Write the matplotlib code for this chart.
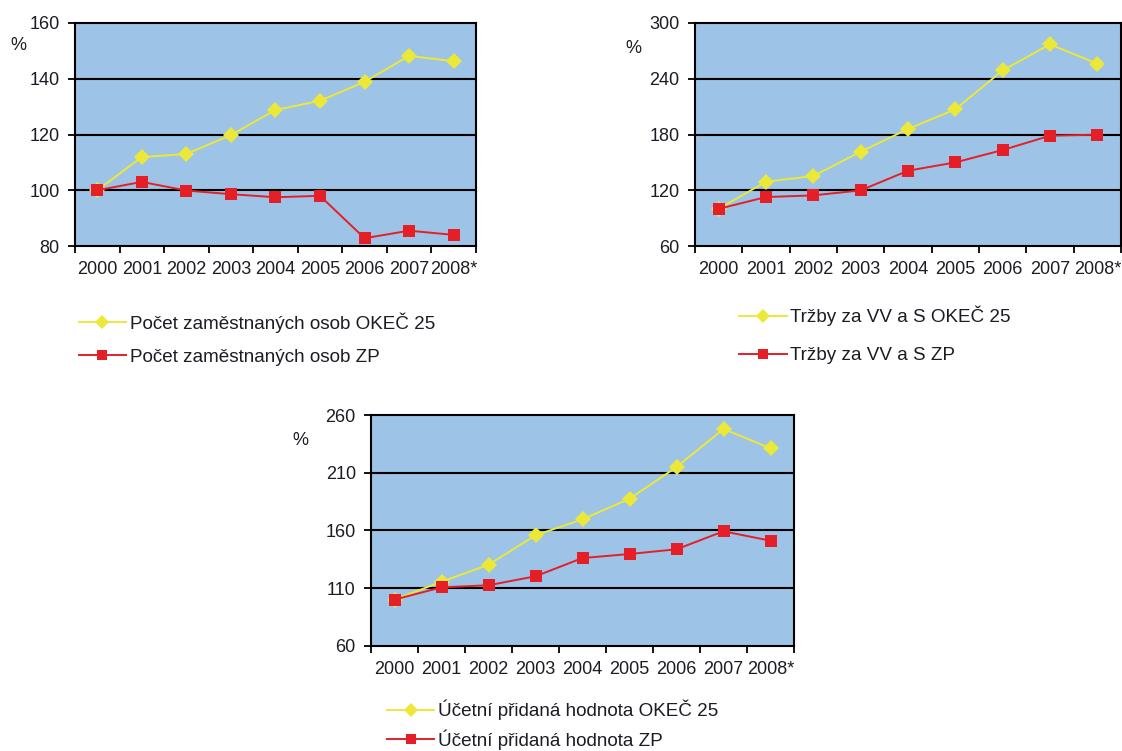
import matplotlib
matplotlib.use("Agg")
import matplotlib.pyplot as plt

plt.rcParams["font.family"] = ["Liberation Sans", "DejaVu Sans"]

years = ["2000", "2001", "2002", "2003", "2004", "2005", "2006", "2007", "2008*"]

# Počet zaměstnaných osob
emp_okec = [100, 111.9, 113.0, 119.8, 128.8, 132.1, 138.9, 148.2, 146.3]
emp_zp = [100, 103.0, 99.9, 98.6, 97.5, 98.0, 82.8, 85.5, 84.0]

# Tržby za VV a S
sales_okec = [100, 129.2, 135.3, 161.5, 185.9, 207.1, 249.0, 277.0, 256.2]
sales_zp = [100, 112.7, 114.5, 119.9, 141.0, 150.0, 163.3, 178.7, 179.8]

# Účetní přidaná hodnota
value_okec = [100, 115.5, 130.2, 155.7, 169.6, 187.4, 214.9, 247.9, 231.1]
value_zp = [100, 110.6, 112.4, 120.2, 136.0, 139.5, 143.6, 159.2, 151.0]

BG = "#9dc3e6"
YELLOW = "#ece83a"
RED = "#e41f28"
TXT = "#1c1c24"

fig = plt.figure(figsize=(11.22, 7.51), dpi=100)


def draw(rect, okec, zp, ylim, yticks, labels, pct_xy, leg_xy, spacing):
    ax = fig.add_axes(rect)
    ax.set_facecolor(BG)
    x = list(range(len(years)))
    l1, = ax.plot(x, okec, color=YELLOW, lw=1.4, marker="D", ms=8.5,
                  markeredgewidth=0, label=labels[0], zorder=3)
    l2, = ax.plot(x, zp, color=RED, lw=1.4, marker="s", ms=8.5,
                  markeredgewidth=0, label=labels[1], zorder=4)
    ax.set_xlim(-0.5, len(years) - 0.5)
    ax.set_ylim(*ylim)
    ax.set_yticks(yticks)
    for y in yticks[1:-1]:
        ax.axhline(y, color="black", lw=1.5, zorder=2)
    for s in ax.spines.values():
        s.set_color("black")
        s.set_linewidth(1.5)
    # category boundaries carry the ticks, labels sit in the middle
    ax.set_xticks([i + 0.5 for i in range(-1, len(years))])
    ax.set_xticklabels([])
    ax.set_xticks(x, minor=True)
    ax.set_xticklabels(years, minor=True)
    ax.tick_params(axis="x", which="major", length=5, width=1.3, direction="out")
    ax.tick_params(axis="x", which="minor", length=0, pad=11,
                   labelsize=13, labelcolor=TXT)
    ax.tick_params(axis="y", length=5, width=1.3, pad=6, labelsize=13,
                   labelcolor=TXT)
    fig.text(pct_xy[0], pct_xy[1], "%", fontsize=13, color=TXT,
             ha="left", va="center")
    ax.legend(handles=[l1, l2], loc="upper left", bbox_to_anchor=leg_xy,
              bbox_transform=fig.transFigure, frameon=False, fontsize=13.6,
              handlelength=2.5, handletextpad=0.2, labelspacing=spacing,
              borderaxespad=0, borderpad=0, markerscale=0.85, labelcolor=TXT)
    return ax


draw([0.0668, 0.6724, 0.3574, 0.297], emp_okec, emp_zp,
     (80, 160), [80, 100, 120, 140, 160],
     ["Počet zaměstnaných osob OKEČ 25", "Počet zaměstnaných osob ZP"],
     (0.009, 0.940), (0.070, 0.5845), 0.84)

draw([0.6194, 0.6724, 0.3797, 0.297], sales_okec, sales_zp,
     (60, 300), [60, 120, 180, 240, 300],
     ["Tržby za VV a S OKEČ 25", "Tržby za VV a S ZP"],
     (0.557, 0.936), (0.659, 0.593), 1.11)

draw([0.3307, 0.1402, 0.377, 0.3072], value_okec, value_zp,
     (60, 260), [60, 110, 160, 210, 260],
     ["Účetní přidaná hodnota OKEČ 25", "Účetní přidaná hodnota ZP"],
     (0.261, 0.414), (0.345, 0.068), 0.48)

fig.savefig("out.png", dpi=100)
